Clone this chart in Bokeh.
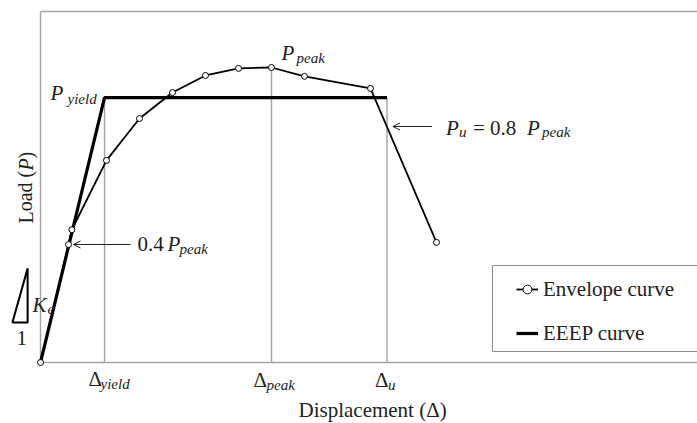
from bokeh.plotting import figure
from bokeh.models import (Range1d, Label, Arrow, OpenHead, Legend, LegendItem,
                          PolyAnnotation, BoxAnnotation)
from bokeh.embed import file_html
from bokeh.resources import INLINE

# ---------------- data ----------------
env_x = [0, 0.85, 0.95, 2, 3, 4, 5, 6, 7, 8, 10, 12]
env_y = [0, 40, 45, 68.5, 82.7, 91.5, 97.3, 99.7, 100, 97, 92.9, 40.7]

p_peak = 100.0
p_yield = 89.8
p_u = 0.8 * p_peak
d_yield = 1.94
d_peak = 7.0
d_u = 10.5

eeep_x = [0, d_yield, d_u]
eeep_y = [0, p_yield, p_yield]

ref_x = [d_yield, d_peak, d_u]
ref_top = [p_yield, p_peak, p_yield]

# slope-triangle (K_e) decoration, in data units left of the axis
tri_x = [-0.39, -0.85, -0.39]
tri_y = [31.9, 13.6, 13.6]

# scales: 33 px per displacement unit, 2.95 px per load unit
PX_X = 33.0
PX_Y = 2.95
W, H = 697, 423
LEFT, TOP, BOTTOM = 40, 11, 362
X0 = -LEFT / PX_X
X1 = (W - LEFT) / PX_X
Y0 = -(H - BOTTOM) / PX_Y
Y1 = BOTTOM / PX_Y
Y_TOP = (BOTTOM - TOP) / PX_Y

FONT = "Liberation Serif"
TXT = "#222222"
GRAY = "#a3a3a3"

p = figure(width=W, height=H, x_range=Range1d(X0, X1), y_range=Range1d(Y0, Y1),
           output_backend="svg", toolbar_location=None,
           x_axis_location=None, y_axis_location=None,
           min_border_left=0, min_border_right=0, min_border_top=0, min_border_bottom=0)
p.grid.visible = False
p.outline_line_color = None

# axes frame lines (left, bottom, top)
p.segment(x0=[0, 0, 0], y0=[0, 0, Y_TOP], x1=[0, X1, X1], y1=[Y_TOP, 0, Y_TOP],
          line_color=GRAY, line_width=1.4)

# reference verticals
p.segment(x0=ref_x, y0=[0, 0, 0], x1=ref_x, y1=ref_top, line_color=GRAY, line_width=1.4)

env_line = p.line(env_x, env_y, line_color="black", line_width=1.8)
eeep_line = p.line(eeep_x, eeep_y, line_color="black", line_width=3.2)
env_pts = p.scatter(env_x, env_y, marker="circle", size=6, fill_color="white",
                    line_color="black", line_width=1)

# legend box (frame) and legend entries
p.add_layout(BoxAnnotation(left=(492 - LEFT) / PX_X, right=X1 + 1,
                           bottom=(BOTTOM - 351) / PX_Y, top=(BOTTOM - 265) / PX_Y,
                           fill_color="white", fill_alpha=1,
                           line_color="#8c8c8c", line_alpha=1, line_width=1))
legend = Legend(items=[LegendItem(label="Envelope curve", renderers=[env_line, env_pts]),
                       LegendItem(label="EEEP curve", renderers=[eeep_line])],
                location=(516, 77), padding=0, spacing=18, margin=0,
                glyph_width=22, glyph_height=26, label_height=26, label_width=150,
                label_standoff=5, border_line_color=None,
                label_text_font=FONT, label_text_font_size="21px", label_text_color=TXT,
                background_fill_alpha=0)
p.add_layout(legend)

SHIFT = 6  # baseline correction for label rendering


def lab(x, y, text, dx, dy, size=21, italic=False, angle=0.0):
    if angle:
        dx -= 3
    else:
        dy += SHIFT
    p.add_layout(Label(x=x, y=y, x_offset=dx, y_offset=dy, text=text, text_font=FONT,
                       text_font_size=f"{size}px",
                       text_font_style="italic" if italic else "normal",
                       text_color=TXT, text_baseline="alphabetic", text_align="left",
                       angle=angle))


SUB = 15
# P_yield
lab(d_yield, p_yield, "P", -54, -1, italic=True)
lab(d_yield, p_yield, "yield", -37, -7, size=SUB, italic=True)
# P_peak
lab(d_peak, p_peak, "P", 10, 9, italic=True)
lab(d_peak, p_peak, "peak", 25, 4, size=SUB, italic=True)
# 0.4 P_peak
lab(env_x[1], env_y[1], "0.4", 69, -5)
lab(env_x[1], env_y[1], "P", 99, -5, italic=True)
lab(env_x[1], env_y[1], "peak", 111, -10, size=SUB, italic=True)
# P_u = 0.8 P_peak
lab(d_u, p_u, "P", 59, -7, italic=True)
lab(d_u, p_u, "u", 72, -11, size=SUB, italic=True)
lab(d_u, p_u, "= 0.8", 86, -7)
lab(d_u, p_u, "P", 140, -7, italic=True)
lab(d_u, p_u, "peak", 155, -11, size=SUB, italic=True)
# Delta labels on x axis
lab(d_yield, 0, "Δ", -16, -22)
lab(d_yield, 0, "yield", -4, -27, size=SUB, italic=True)
lab(d_peak, 0, "Δ", -18, -23)
lab(d_peak, 0, "peak", -5, -28, size=SUB, italic=True)
lab(d_u, 0, "Δ", -12, -23)
lab(d_u, 0, "u", 1, -28, size=SUB, italic=True)
# axis titles
lab(0, 0, "Displacement (Δ)", 258, -53)
lab(0, 0, "Load (", -12, 139, size=20, angle=1.5708)
lab(0, 0, "P", -12, 192, size=20, italic=True, angle=1.5708)
lab(0, 0, ")", -12, 204, size=20, angle=1.5708)
# K_e triangle
p.add_layout(PolyAnnotation(xs=tri_x, ys=tri_y, fill_color=None, fill_alpha=0,
                            line_color="black", line_alpha=1, line_width=2))
lab(0, 0, "K", -8, 52, italic=True)
lab(0, 0, "e", 7, 48, size=SUB, italic=True)
lab(0, 0, "1", -24, 19)

# arrows
p.add_layout(Arrow(end=OpenHead(size=7, line_width=1, line_color=TXT),
                   x_start=env_x[1] + 1.88, y_start=env_y[1],
                   x_end=env_x[1] + 0.15, y_end=env_y[1], line_width=1, line_color=TXT))
p.add_layout(Arrow(end=OpenHead(size=7, line_width=1, line_color=TXT),
                   x_start=d_u + 1.36, y_start=p_u,
                   x_end=d_u + 0.18, y_end=p_u, line_width=1, line_color=TXT))

open("out.html", "w").write(file_html(p, INLINE))
